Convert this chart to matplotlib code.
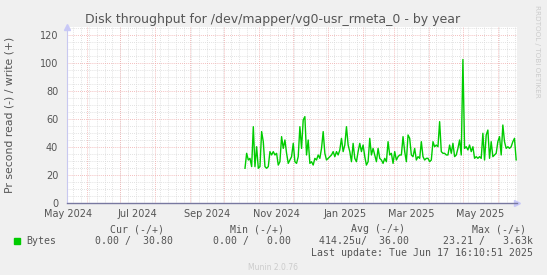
import matplotlib
matplotlib.use('Agg')
import matplotlib.pyplot as plt
import numpy as np
import pandas as pd

# ---- data ----
start = pd.Timestamp('2024-10-19 12:00')
step = pd.Timedelta(hours=35.4)

bytes_write = [
    24.8, 35.5, 30.7, 31.9, 26.0, 54.5, 26.0, 40.2, 24.8, 26.0,
    51.0, 43.8, 26.0, 24.8, 26.0, 36.7, 34.3, 36.7, 34.3, 35.5,
    27.1, 29.5, 47.4, 39.0, 45.0, 35.5, 28.3, 30.7, 33.1, 42.6,
    29.5, 28.3, 33.1, 54.5, 39.0, 59.3, 61.7, 34.3, 45.0, 28.3,
    29.5, 27.1, 31.9, 30.7, 34.3, 31.9, 39.0, 51.0, 35.5, 30.7,
    31.9, 33.1, 34.3, 36.7, 33.1, 36.7, 34.3, 37.9, 46.2, 36.7,
    41.4, 54.5, 41.4, 36.7, 29.5, 42.6, 31.9, 29.5, 36.7, 42.6,
    36.7, 41.4, 33.1, 27.1, 29.5, 46.2, 34.3, 39.0, 34.3, 29.5,
    39.0, 31.9,
    30.7, 28.3, 31.9, 29.5, 43.8, 34.3, 35.5, 28.3, 36.7, 30.7,
    33.1, 34.3, 34.3, 47.4, 36.7, 29.5, 48.6, 46.2, 34.3, 33.1,
    39.0, 30.7, 33.1, 31.9, 43.8, 33.1, 30.7, 31.9, 31.9, 29.5,
    30.7, 43.8, 40.2, 41.4, 40.2, 58.1, 36.7, 35.5, 35.5, 34.3,
    34.3, 41.4, 35.5, 42.6, 33.1, 34.3, 39.0, 45.0, 34.3, 102.5,
    39.0, 40.2, 37.9, 41.4, 36.7, 40.2, 31.9, 33.1, 31.9, 33.1,
    31.9, 49.8, 30.7, 48.6, 52.1, 31.9, 43.8, 33.1, 34.3, 35.5,
    43.8, 47.4, 34.3, 55.7, 43.8, 39.0, 40.2, 39.0, 40.2, 43.8,
    46.2, 30.8,
]
dates = [start + i * step for i in range(len(bytes_write))]

x_start = pd.Timestamp('2024-05-14 06:00')
x_end = pd.Timestamp('2025-06-17 16:10')
y_max = 125.7

title = 'Disk throughput for /dev/mapper/vg0-usr_rmeta_0 - by year'
ylabel = 'Pr second read (-) / write (+)'
xlabels = ['May 2024', 'Jul 2024', 'Sep 2024', 'Nov 2024', 'Jan 2025', 'Mar 2025', 'May 2025']
xlabel_pos = [pd.Timestamp(s) for s in ['2024-05-16', '2024-07-16', '2024-09-16', '2024-11-16',
                                         '2025-01-16', '2025-03-16', '2025-05-16']]

# ---- figure ----
W, H = 547, 275
fig = plt.figure(figsize=(W / 100, H / 100), dpi=100, facecolor='#F0F0F0')
ax = fig.add_axes([66.5 / W, 72 / H, (517 - 66.5) / W, 176 / H])
ax.set_facecolor('white')
ax.set_xlim(x_start, x_end)
ax.set_ylim(0, y_max)

# minor grid
for v in np.arange(5, y_max, 5):
    if v % 20:
        ax.axhline(v, color='#D8D8D8', lw=0.6, ls=(0, (1, 1.5)), zorder=1)
for d in pd.date_range('2024-05-20', x_end, freq='7D'):
    ax.axvline(d, color='#D8D8D8', lw=0.6, ls=(0, (1, 1.5)), zorder=1)
# major grid
for v in np.arange(20, y_max, 20):
    ax.axhline(v, color='#F0A8A8', lw=0.6, ls=(0, (1, 1.5)), zorder=2)
for d in pd.date_range('2024-06-01', x_end, freq='MS'):
    ax.axvline(d, color='#F0A8A8', lw=0.6, ls=(0, (1, 1.5)), zorder=2)

ax.plot(dates, bytes_write, color='#00CC00', lw=1.0, zorder=3)

for s in ['top', 'right']:
    ax.spines[s].set_visible(False)
ax.spines['left'].set_color('#C8C8F0')
ax.spines['bottom'].set_color('#7878A0')
ax.spines['left'].set_linewidth(0.8)
ax.spines['bottom'].set_linewidth(1.0)
ax.plot([0], [1], marker='^', color='#C8C8F8', ms=5, transform=ax.transAxes, clip_on=False)
ax.plot([1], [0], marker='>', color='#C8C8F8', ms=5, transform=ax.transAxes, clip_on=False)

ax.set_yticks(np.arange(0, 121, 20))
ax.set_xticks(xlabel_pos)
ax.set_xticklabels(xlabels)
ax.tick_params(length=0, labelsize=7, colors='#555555')
ax.tick_params(axis='x', pad=4)
ax.tick_params(axis='y', pad=6)

fig.text(273 / W, 1 - 19 / H, title, ha='center', va='center', fontsize=9, color='#555555')
fig.text(10 / W, 1 - 115 / H, ylabel, rotation=90, ha='center', va='center',
         fontsize=7.8, color='#555555')
fig.text(537 / W, 1 - 5 / H, 'RRDTOOL / TOBI OETIKER', rotation=270, ha='center', va='top',
         fontsize=5.2, color='#CCCCCC')

# legend block
mono = dict(family='DejaVu Sans Mono', fontsize=7.1, color='#555555', va='center')
fig.patches.append(plt.Rectangle((14 / W, 1 - 244 / H), 6 / W, 6 / H, color='#00CC00',
                                 transform=fig.transFigure))
fig.text(26 / W, 1 - 241 / H, 'Bytes', ha='left', **mono)
for txt, xr in [('Cur (-/+)', 164), ('Min (-/+)', 284), ('Avg (-/+)', 405), ('Max (-/+)', 526)]:
    fig.text(xr / W, 1 - 229 / H, txt, ha='right', **mono)
for txt, xr in [('0.00 /  30.80', 173), ('0.00 /   0.00', 291),
                ('414.25u/  36.00', 409), ('23.21 /   3.63k', 533)]:
    fig.text(xr / W, 1 - 241 / H, txt, ha='right', **mono)
fig.text(533 / W, 1 - 253.5 / H, 'Last update: Tue Jun 17 16:10:51 2025', ha='right', **mono)
fig.text(273 / W, 1 - 268 / H, 'Munin 2.0.76', ha='center', va='center', fontsize=5.5,
         color='#CCCCCC')

fig.savefig('out.png', dpi=100, facecolor=fig.get_facecolor())
